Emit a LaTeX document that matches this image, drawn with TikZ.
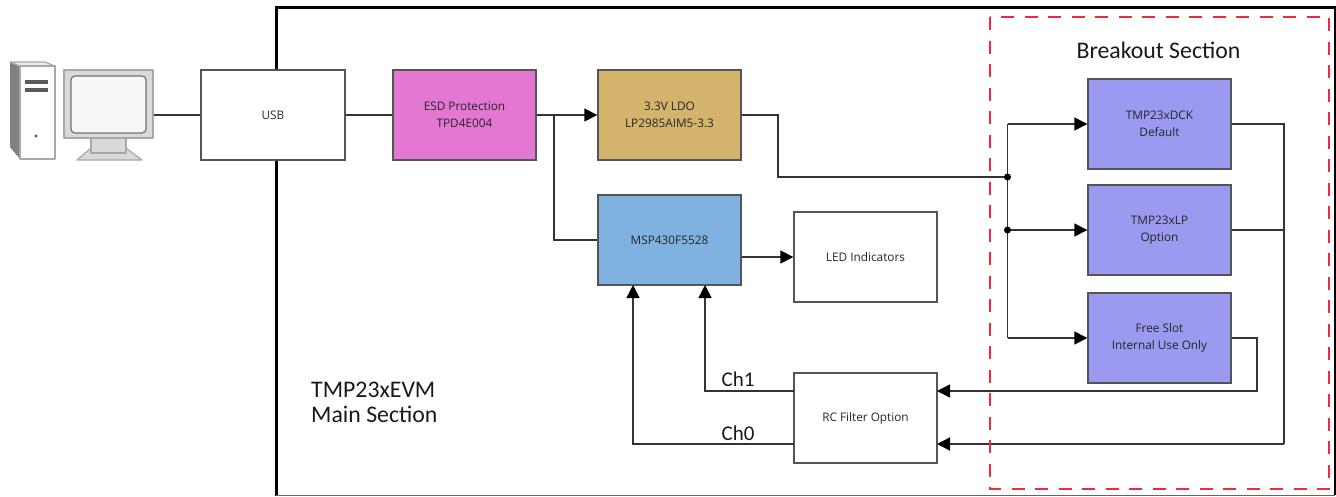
\documentclass[tikz,border=0pt]{standalone}
\usepackage{fontspec}
\setmainfont{Open Sans}
\newfontfamily\cali{Carlito}
\usetikzlibrary{arrows.meta,calc}
\definecolor{esdc}{HTML}{E377D2}
\definecolor{ldoc}{HTML}{D4B46C}
\definecolor{mspc}{HTML}{7FB2E0}
\definecolor{tmpc}{HTML}{9B99F0}
\definecolor{edgec}{HTML}{555555}
\definecolor{redc}{HTML}{EE2B3B}
\definecolor{iconl}{HTML}{A8A8A8}
\definecolor{iconf}{HTML}{D9D9D9}
\tikzset{
  blockbox/.style={draw=edgec,line width=1.4pt,minimum width=143pt,minimum height=90pt,inner sep=0pt,align=center,font=\fontsize{11.8}{17}\selectfont,text=black!85},
  wire/.style={draw=black!80,line width=1.5pt},
  arrowwire/.style={wire,-{Triangle[length=13pt,width=13pt,color=black]}},
  junction/.style={circle,fill=black,inner sep=0pt,minimum size=7pt},
  biglabel/.style={inner sep=0pt,font=\cali\fontsize{23.8}{25}\selectfont,text=black!90},
  chlabel/.style={inner sep=0pt,font=\cali\fontsize{21}{22}\selectfont,text=black!90},
  iconline/.style={draw=iconl,line width=1.2pt,line join=round}
}
\begin{document}
\begin{tikzpicture}[x=1pt,y=-1pt]
\useasboundingbox (0,0) rectangle (1336,496);
% main section frame
\draw[line width=3pt,black] (276,496) -- (276,7) -- (1335,7) -- (1335,495);
\draw[line width=1pt,black!60] (276,495) -- (1335,495);
% computer icon
\fill[black!50] (10,62) -- (20,67) -- (20,159) -- (10,147) -- cycle;
\draw[iconline,fill=black!8] (10,62) -- (45,62) -- (55,66) -- (20,66) -- cycle;
\draw[iconline,fill=white] (20,66) rectangle (55,159);
\fill[black!65] (25,80) rectangle (48,84);
\fill[black!65] (25,88) rectangle (48,92);
\fill[black!65] (36,136) circle (1.7pt);
\draw[iconline,fill=iconf] (77,160) -- (91,148) -- (126,148) -- (142,160) -- cycle;
\draw[iconline,fill=iconf] (91,136) rectangle (126,153);
\node[iconline,fill=iconf,minimum width=89pt,minimum height=68pt,inner sep=0pt] (monitor) at (108.5,104) {};
\draw[draw=black!55,line width=1.2pt,fill=black!3,rounded corners=4pt] (71,76) rectangle (146,133);
% blocks
\node[blockbox,minimum width=144pt,fill=white] (usb) at (273,115) {USB};
\node[blockbox,fill=esdc] (esd) at (464.5,115) {ESD Protection\\TPD4E004};
\node[blockbox,fill=ldoc] (ldo) at (669.5,115) {3.3V LDO\\LP2985AIM5-3.3};
\node[blockbox,fill=mspc] (msp) at (669.5,240) {MSP430F5528};
\node[blockbox,fill=white] (led) at (865.5,257) {LED Indicators};
\node[blockbox,fill=white] (rc) at (865.5,418) {RC Filter Option};
\node[blockbox,fill=tmpc] (dck) at (1159.5,124) {TMP23xDCK\\Default};
\node[blockbox,fill=tmpc] (lp) at (1159.5,230) {TMP23xLP\\Option};
\node[blockbox,fill=tmpc] (free) at (1159.5,338) {Free Slot\\Internal Use Only};
% helper points
\coordinate (split) at (554,115);
\coordinate (ldoturn) at (778,115);
\coordinate (j1) at (1007.5,177);
\coordinate (j2) at (1007.5,230);
\coordinate (vtop) at (1007.5,124);
\coordinate (vbot) at (1007.5,338);
\coordinate (rbus) at (1284,124);
\coordinate (rbusbot) at (1284,444);
\coordinate (fr) at (1257,338);
\coordinate (rcin1) at (937,391);
\coordinate (rcin0) at (937,444);
\coordinate (ch1a) at (794,391);
\coordinate (ch0a) at (794,444);
\coordinate (ch1b) at (705,285);
\coordinate (ch0b) at (633,285);
% connectors
\draw[wire] (monitor.east |- usb.west) -- (usb.west);
\draw[wire] (usb.east) -- (esd.west);
\draw[arrowwire] (esd.east) -- (ldo.west);
\draw[wire] (split) |- (msp.west);
\draw[wire] (ldo.east) -- (ldoturn) |- (j1);
\draw[arrowwire] (vtop) -- (dck.west);
\draw[wire] (vtop) -- (vbot);
\draw[arrowwire] (j2) -- (lp.west);
\draw[arrowwire] (vbot) -- (free.west);
\draw[arrowwire] (msp.east |- led.west) -- (led.west);
\draw[wire] (dck.east) -- (rbus) -- (rbusbot);
\draw[wire] (lp.east) -- (lp.east -| rbus);
\draw[arrowwire] (rbusbot) -- (rcin0);
\draw[arrowwire] (free.east) -- (fr) |- (rcin1);
\draw[arrowwire] (ch1a) -| (ch1b);
\draw[arrowwire] (ch0a) -| (ch0b);
\node[junction] (jd1) at (j1) {};
\node[junction] (jd2) at (j2) {};
% breakout
\draw[redc,line width=1.7pt,dash pattern=on 13pt off 10.5pt] (990,17) rectangle (1329,489);
% labels
\node[biglabel] (brk) at (1158.5,50) {Breakout Section};
\node[biglabel,anchor=west,align=left] (mainl) at (311,402.5) {TMP23xEVM\\Main Section};
\node[chlabel] (ch1) at (738,379.5) {Ch1};
\node[chlabel] (ch0) at (738,433) {Ch0};
\end{tikzpicture}
\end{document}
